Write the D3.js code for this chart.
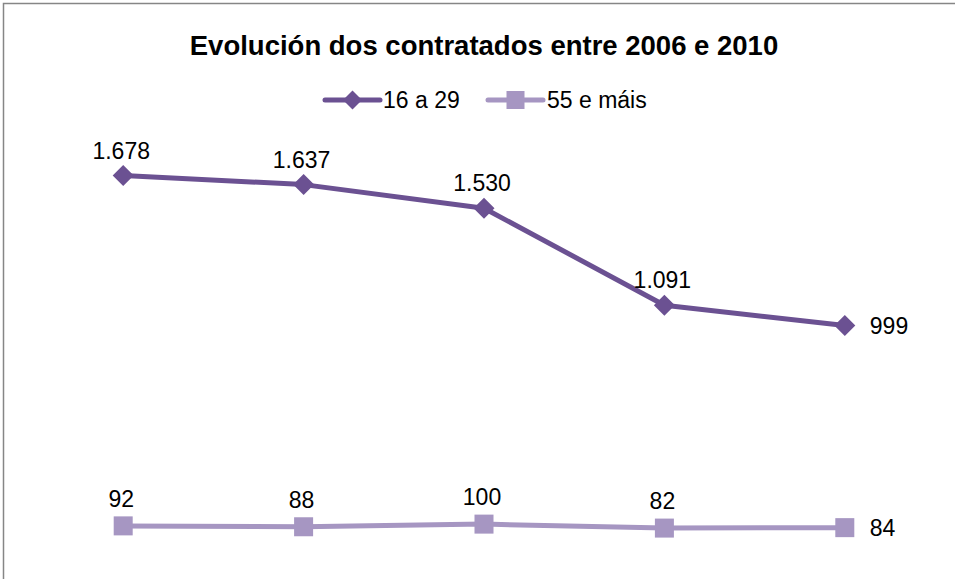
<!DOCTYPE html>
<html>
<head>
<meta charset="utf-8">
<script src="https://cdn.jsdelivr.net/npm/d3@7"></script>
<style>
  html, body { margin: 0; padding: 0; background: #fff; }
  svg { display: block; }
  text { font-family: "Liberation Sans", Arial, sans-serif; fill: #000; }
</style>
</head>
<body>
<svg id="chart" width="955" height="579"></svg>
<script>
'use strict'

// data
const years = ['2006', '2007', '2008', '2009', '2010']
const young = [1678, 1637, 1530, 1091, 999]
const older = [92, 88, 100, 82, 84]
const seriesNames = ['16 a 29', '55 e máis']
const title = 'Evolución dos contratados entre 2006 e 2010'

const WIDTH = 955
const HEIGHT = 579
const COLORS = ['#6B5192', '#A696C2']

const svg = d3.select('#chart')

// chart frame, only the top and left edges show in the picture
svg.append('rect')
  .attr('x', 3.5)
  .attr('y', 3.5)
  .attr('width', 1200)
  .attr('height', 1200)
  .attr('fill', 'none')
  .attr('stroke', '#868686')
  .attr('stroke-width', 1.5)

svg.append('text')
  .attr('x', 484)
  .attr('y', 55)
  .attr('text-anchor', 'middle')
  .style('font-size', '27.5px')
  .style('font-weight', 'bold')
  .text(title)

const x = d3.scaleBand().domain(years).range([33, 935])
const y = d3.scaleLinear().domain([0, 1800]).range([546.2, 148.6])
const cx = (d) => x(d) + x.bandwidth() / 2

const series = [
  { name: seriesNames[0], values: young, color: COLORS[0], marker: 'diamond', labelDy: -17 },
  { name: seriesNames[1], values: older, color: COLORS[1], marker: 'square', labelDy: -19 }
]

const fmt = d3.formatLocale({ decimal: ',', thousands: '.', grouping: [3], currency: ['', '€'] }).format(',d')

const line = d3.line()
  .x((d) => cx(d.year))
  .y((d) => y(d.value))

// draw a marker centred on 0,0
const drawMarker = (g, type, color, size) => {
  if (type === 'diamond') {
    const r = size / 2
    g.append('polygon')
      .attr('points', `0,${-r} ${r},0 0,${r} ${-r},0`)
      .attr('fill', color)
  } else {
    g.append('rect')
      .attr('x', -size / 2)
      .attr('y', -size / 2)
      .attr('width', size)
      .attr('height', size)
      .attr('fill', color)
  }
}

series.forEach((s) => {
  const pts = years.map((yr, i) => ({ year: yr, value: s.values[i] }))
  const g = svg.append('g').attr('class', 'series')

  g.append('path')
    .datum(pts)
    .attr('d', line)
    .attr('fill', 'none')
    .attr('stroke', s.color)
    .attr('stroke-width', 5)
    .attr('stroke-linejoin', 'round')

  g.selectAll('g.marker')
    .data(pts)
    .enter().append('g')
    .attr('class', 'marker')
    .attr('transform', (d) => `translate(${cx(d.year)}, ${y(d.value)})`)
    .each(function () {
      drawMarker(d3.select(this), s.marker, s.color, s.marker === 'diamond' ? 21 : 19)
    })

  // labels sit above the point, except the last one which goes to the right
  g.selectAll('text.label')
    .data(pts)
    .enter().append('text')
    .attr('class', 'label')
    .style('font-size', '23px')
    .attr('text-anchor', (d, i) => i === pts.length - 1 ? 'start' : 'middle')
    .attr('x', (d, i) => i === pts.length - 1 ? cx(d.year) + 25 : cx(d.year) - 2)
    .attr('y', (d, i) => i === pts.length - 1 ? y(d.value) + 8 : y(d.value) + s.labelDy)
    .text((d) => fmt(d.value))
})

// legend
const legendItems = [
  { x: 325, textX: 383 },
  { x: 488, textX: 547 }
]
series.forEach((s, i) => {
  const item = legendItems[i]
  const lg = svg.append('g').attr('class', 'legend')
  lg.append('line')
    .attr('x1', item.x)
    .attr('x2', item.x + 55)
    .attr('y1', 100)
    .attr('y2', 100)
    .attr('stroke', s.color)
    .attr('stroke-width', 5)
    .attr('stroke-linecap', 'round')
  const m = lg.append('g').attr('transform', `translate(${item.x + 27.5}, 100)`)
  drawMarker(m, s.marker, s.color, s.marker === 'diamond' ? 19 : 18)
  lg.append('text')
    .attr('x', item.textX)
    .attr('y', 108)
    .style('font-size', '23px')
    .text(s.name)
})
</script>
</body>
</html>
